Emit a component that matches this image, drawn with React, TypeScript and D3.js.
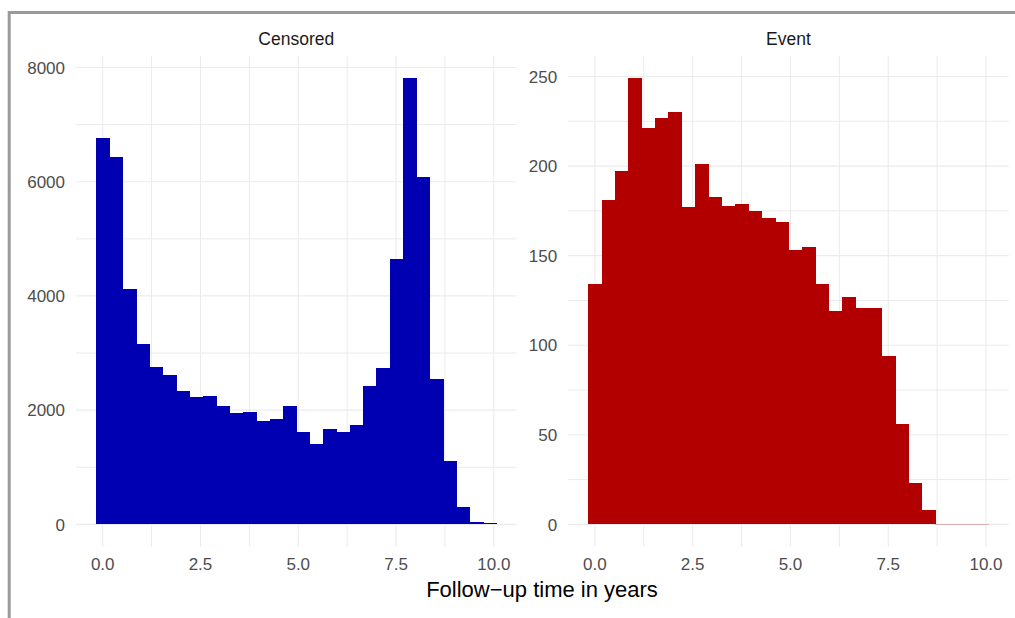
import React from 'react'
import * as d3 from 'd3'

// histogram counts per bin (30 bins)
const censoredCounts = [
  6760, 6430, 4120, 3160, 2750, 2610, 2330, 2230, 2250, 2070,
  1950, 1970, 1810, 1840, 2070, 1620, 1405, 1670, 1620, 1740,
  2420, 2740, 4645, 7810, 6080, 2545, 1110, 305, 40, 10,
]
const eventCounts = [
  134, 181, 197, 249, 221, 227, 230, 177, 201, 183,
  178, 179, 175, 171, 169, 153, 155, 134, 119, 127,
  121, 121, 94, 56, 23, 8, 0, 0, 0, 0,
]
const panels = ['Censored', 'Event']
const fills = ['#0000b2', '#b20000']
const yTicks = [
  [0, 2000, 4000, 6000, 8000],
  [0, 50, 100, 150, 200, 250],
]
const yMinor = [
  [1000, 3000, 5000, 7000],
  [25, 75, 125, 175, 225],
]
const xTicks = [0, 2.5, 5, 7.5, 10]
const xMinor = [1.25, 3.75, 6.25, 8.75]
const xTickLabels = ['0.0', '2.5', '5.0', '7.5', '10.0']
const binWidth = 0.3413
const binStart = -binWidth / 2

const font = '"Liberation Sans", Arial, sans-serif'
const grid = '#ebebeb'

const Panel = ({ idx, left }: { idx: number; left: number }) => {
  const counts = idx === 0 ? censoredCounts : eventCounts
  const top = 56
  const bottom = 546.7
  const width = 440.5

  const lo = binStart
  const hi = binStart + binWidth * counts.length
  const pad = (hi - lo) * 0.05
  const x = d3.scaleLinear().domain([lo - pad, hi + pad]).range([left, left + width])
  const ymax = d3.max(counts) as number
  const y = d3.scaleLinear().domain([-0.05 * ymax, 1.05 * ymax]).range([bottom, top])

  return (
    <g>
      {/* grid */}
      {yMinor[idx].map(v => (
        <line key={'ym' + v} x1={left} x2={left + width} y1={y(v)} y2={y(v)} stroke={grid} strokeWidth={1} />
      ))}
      {yTicks[idx].map(v => (
        <line key={'yM' + v} x1={left} x2={left + width} y1={y(v)} y2={y(v)} stroke={grid} strokeWidth={1.1} />
      ))}
      {xMinor.map(v => (
        <line key={'xm' + v} x1={x(v)} x2={x(v)} y1={top} y2={bottom} stroke={grid} strokeWidth={1} />
      ))}
      {xTicks.map(v => (
        <line key={'xM' + v} x1={x(v)} x2={x(v)} y1={top} y2={bottom} stroke={grid} strokeWidth={1.1} />
      ))}

      {/* bars */}
      <g shapeRendering="crispEdges">
        {counts.map((c, i) => {
          const x0 = x(binStart + i * binWidth)
          const x1 = x(binStart + (i + 1) * binWidth)
          if (c === 0) {
            return (
              <line key={i} x1={x0} x2={x1} y1={y(0)} y2={y(0)} stroke={fills[idx]} strokeOpacity={0.25} strokeWidth={1} />
            )
          }
          const h = Math.max(y(0) - y(c), 1.2)
          return <rect key={i} x={x0} y={y(0) - h} width={x1 - x0 + 0.5} height={h} fill={fills[idx]} />
        })}
      </g>

      {/* y labels */}
      {yTicks[idx].map(v => (
        <text key={'yl' + v} x={left - 11} y={y(v)} dy="0.36em" textAnchor="end" fontSize={17} fill="#4d4d4d" fontFamily={font}>
          {v}
        </text>
      ))}
      {/* x labels */}
      {xTicks.map((v, i) => (
        <text key={'xl' + v} x={x(v)} y={570} textAnchor="middle" fontSize={17} fill="#4d4d4d" fontFamily={font}>
          {xTickLabels[i]}
        </text>
      ))}
      {/* strip */}
      <text x={left + width / 2} y={45} textAnchor="middle" fontSize={17.5} fill="#1a1a1a" fontFamily={font}>
        {panels[idx]}
      </text>
    </g>
  )
}

export default function App() {
  return (
    <svg width={1015} height={618} style={{ position: 'absolute', left: 0, top: 0, background: '#fff' }}>
      <rect x={0} y={0} width={1015} height={618} fill="#fff" />
      <rect x={9.2} y={12.5} width={1100} height={700} fill="none" stroke="#9a9a9a" strokeWidth={3} />
      <Panel idx={0} left={76} />
      <Panel idx={1} left={568.2} />
      <text x={542} y={597} textAnchor="middle" fontSize={22} fill="#000" fontFamily={font}>
        Follow−up time in years
      </text>
    </svg>
  )
}
